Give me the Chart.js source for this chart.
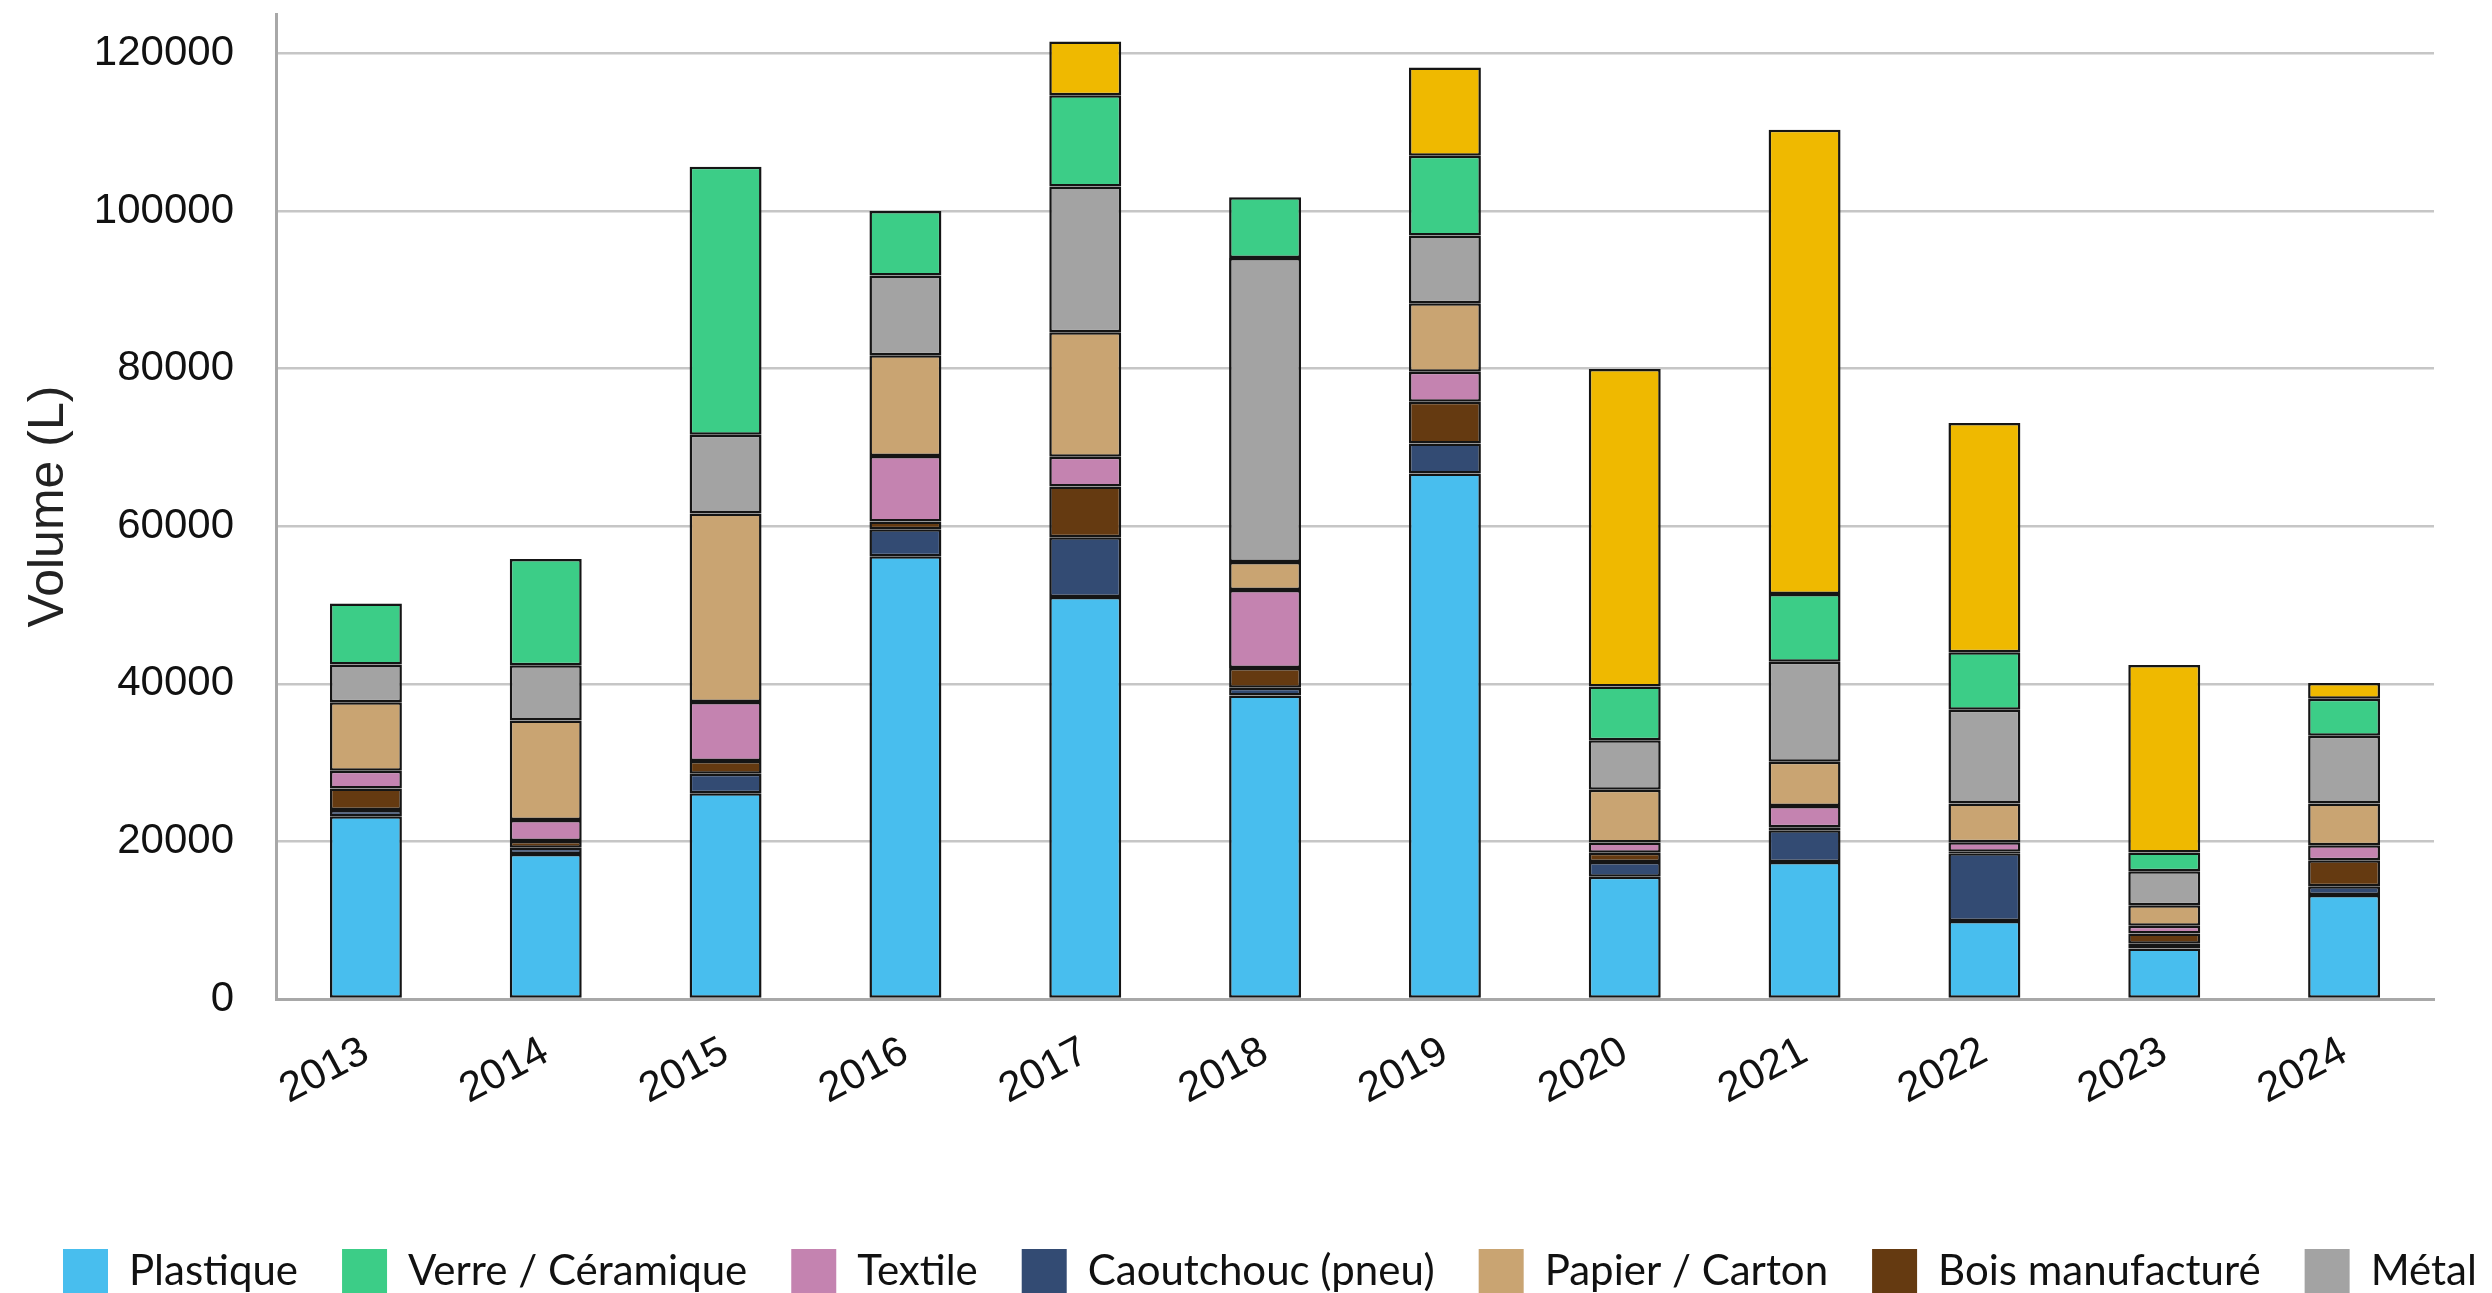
<!DOCTYPE html>
<html>
<head>
<meta charset="utf-8">
<script src="https://cdn.jsdelivr.net/npm/chart.js@4"></script>
<style>
  html, body { margin: 0; padding: 0; background: #fff; overflow: hidden; }
  #wrap { width: 2492px; height: 1293px; overflow: hidden; position: relative; }
  canvas { display: block; }
</style>
</head>
<body>
<div id="wrap">
  <canvas id="chart" width="2700" height="1304"></canvas>
</div>
<script>
// years on the x axis
const years = ['2013', '2014', '2015', '2016', '2017', '2018', '2019', '2020', '2021', '2022', '2023', '2024'];

// volumes (L), stacked bottom -> top
const plastique  = [23200, 18400, 26100, 56200, 51000, 38500, 66700, 15500, 17400, 9900, 6400, 13200];
const caoutchouc = [800, 800, 2500, 3400, 7600, 1000, 3800, 1900, 4000, 8600, 600, 1100];
const bois       = [2700, 850, 1600, 1000, 6450, 2500, 5300, 1150, 400, 200, 1300, 3300];
const textile    = [2250, 2650, 7500, 8300, 3750, 9900, 3800, 1300, 2700, 1200, 1000, 1900];
const papier     = [8700, 12650, 23900, 12800, 15800, 3550, 8700, 6700, 5600, 4900, 2600, 5300];
const metal      = [4800, 7000, 10000, 10100, 18500, 38600, 8600, 6300, 12700, 11900, 4300, 8600];
const verre      = [7750, 13500, 34000, 8200, 11600, 7700, 10100, 6800, 8600, 7300, 2400, 4700];
const autres     = [null, null, null, null, 6800, null, 11200, 40300, 58900, 29100, 23800, 2000];

const yTicks = [0, 20000, 40000, 60000, 80000, 100000, 120000];

// legend shows items in this order (the yellow one falls outside the picture)
const legendOrder = ['Plastique', 'Verre / Céramique', 'Textile', 'Caoutchouc (pneu)',
  'Papier / Carton', 'Bois manufacturé', 'Métal'];

const series = [
  { label: 'Plastique', data: plastique, color: '#48beee' },
  { label: 'Caoutchouc (pneu)', data: caoutchouc, color: '#334b73' },
  { label: 'Bois manufacturé', data: bois, color: '#653a11' },
  { label: 'Textile', data: textile, color: '#c483b0' },
  { label: 'Papier / Carton', data: papier, color: '#c9a472' },
  { label: 'Métal', data: metal, color: '#a3a3a3' },
  { label: 'Verre / Céramique', data: verre, color: '#3ccd87' },
  { label: 'Autres', data: autres, color: '#efb900' }
];

const axisFont = 'Liberation Sans, Arial, sans-serif';

new Chart(document.getElementById('chart'), {
  type: 'bar',
  data: {
    labels: years,
    datasets: series.map(s => ({
      label: s.label,
      data: s.data,
      backgroundColor: s.color,
      borderColor: '#151515',
      borderWidth: 2.5,
      borderSkipped: false,
      categoryPercentage: 1,
      barPercentage: 0.4
    }))
  },
  options: {
    responsive: false,
    animation: false,
    layout: { padding: { left: 19, top: 14, right: 0, bottom: 0 } },
    plugins: {
      tooltip: { enabled: false },
      legend: {
        position: 'bottom',
        align: 'start',
        labels: {
          boxWidth: 45,
          boxHeight: 45,
          padding: 44,
          color: '#111',
          font: { family: 'Lato', size: 42 },
          filter: item => legendOrder.includes(item.text),
          sort: (a, b) => legendOrder.indexOf(a.text) - legendOrder.indexOf(b.text),
          generateLabels: chart => Chart.defaults.plugins.legend.labels.generateLabels(chart)
            .map(l => Object.assign(l, { lineWidth: 0, strokeStyle: 'rgba(0,0,0,0)' }))
        }
      }
    },
    scales: {
      x: {
        stacked: true,
        grid: { display: false, drawTicks: false },
        border: { color: '#a8a8a8', width: 3 },
        ticks: {
          color: '#111',
          font: { family: axisFont, size: 42 },
          minRotation: 28,
          maxRotation: 28,
          padding: 28
        },
        afterFit: s => { s.height = 206; }
      },
      y: {
        stacked: true,
        min: 0,
        max: 125000,
        grid: { color: '#c6c6c6', lineWidth: 2.5, drawTicks: true, tickLength: 39, tickColor: 'rgba(0,0,0,0)' },
        border: { color: '#a8a8a8', width: 3 },
        afterBuildTicks: s => { s.ticks = yTicks.map(v => ({ value: v })); },
        ticks: {
          color: '#111',
          font: { family: axisFont, size: 42, lineHeight: 0.5 },
          padding: 3,
          callback: v => String(v)
        },
        title: {
          display: true,
          text: 'Volume (L)',
          color: '#222',
          font: { family: axisFont, size: 50 },
          padding: { top: 0, bottom: 8 }
        },
        afterFit: s => { s.width = 257; }
      },
      // empty right-hand box so the plot ends where the picture's plot ends
      yRight: {
        position: 'right',
        grid: { display: false, drawTicks: false },
        border: { display: false },
        ticks: { display: false },
        afterFit: s => { s.width = 266; }
      }
    }
  }
});
</script>
</body>
</html>
